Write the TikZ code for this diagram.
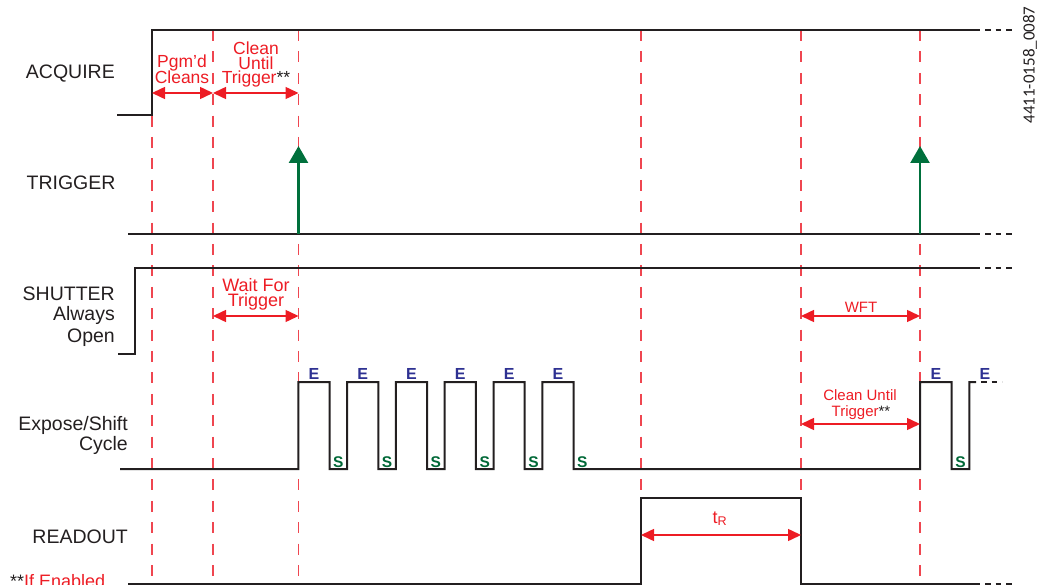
\documentclass[tikz,border=0pt]{standalone}
\usepackage{fontspec}
\setmainfont{Liberation Sans}
\newfontfamily\carlito{Carlito}
\usetikzlibrary{arrows.meta}
\definecolor{ink}{RGB}{35,31,32}
\definecolor{red1}{RGB}{237,28,36}
\definecolor{dashred}{RGB}{239,70,80}
\definecolor{trig}{RGB}{0,112,60}
\definecolor{eblue}{RGB}{46,49,146}
\definecolor{sgreen}{RGB}{0,104,55}
\begin{document}
\begin{tikzpicture}[x=1pt,y=-1pt,
  wave/.style={draw=ink,line width=2pt,line join=miter},
  cont/.style={draw=ink,line width=2pt,dash pattern=on 5.5pt off 5pt},
  guide/.style={draw=dashred,line width=1.4pt,dash pattern=on 11pt off 10.4pt},
  span/.style={draw=red1,line width=1.5pt,{Triangle[length=13pt,width=12pt]}-{Triangle[length=13pt,width=12pt]}},
  trigarrow/.style={draw=trig,line width=2.5pt,-{Triangle[length=17pt,width=19pt]}},
  sig/.style={font=\fontsize{19.5}{22}\selectfont,text=ink,anchor=base east,inner sep=0pt},
  note/.style={font=\fontsize{17.5}{18}\selectfont,text=red1,anchor=base,inner sep=0pt},
  smallnote/.style={font=\fontsize{15}{16}\selectfont,text=red1,anchor=base,inner sep=0pt},
  elab/.style={font=\fontsize{16}{16}\selectfont\bfseries,text=eblue,anchor=base,inner sep=0pt},
  slab/.style={font=\fontsize{15.5}{16}\selectfont\bfseries,text=sgreen,anchor=base,inner sep=0pt}
]
\useasboundingbox (0,0) rectangle (1039,585);

% guide columns
\foreach \gx/\gn in {152/ga,213/gb,298.5/gc,641/gd,801/ge,920/gf}{
  \coordinate (\gn top) at (\gx,30);
  \coordinate (\gn bot) at (\gx,592);
  \draw[guide] (\gn top) -- (\gn bot);
}

% ACQUIRE
\draw[wave] (117,115) -- (152,115) -- (152,30) -- (980,30);
\draw[cont] (985,30) -- (1013,30);
% TRIGGER
\draw[wave] (128,234) -- (980,234);
\draw[cont] (985,234) -- (1013,234);
% SHUTTER
\draw[wave] (118,354) -- (135,354) -- (135,268) -- (980,268);
\draw[cont] (985,268) -- (1013,268);
% EXPOSE/SHIFT
\draw[wave] (120,469) -- (298.3,469)
  \foreach \r in {298.3,347.1,395.9,444.7,493.5,542.3}{
    -- (\r,382) -- ({\r+31.2},382) -- ({\r+31.2},469) -- ({\r+48.8},469)
  } -- (920,469) -- (920,382) -- (951.7,382) -- (951.7,469) -- (969.3,469) -- (969.3,382) -- (976,382);
\draw[cont] (981,382) -- (1002,382);
% READOUT
\draw[wave] (128,584) -- (641,584) -- (641,498) -- (801,498) -- (801,584) -- (980,584);
\draw[cont] (985,584) -- (1013,584);

% trigger arrows
\coordinate (t1a) at (298.5,234); \coordinate (t1b) at (298.5,146);
\coordinate (t2a) at (920,234); \coordinate (t2b) at (920,146);
\draw[trigarrow] (t1a) -- (t1b);
\draw[trigarrow] (t2a) -- (t2b);

% span arrows
\coordinate (a1) at (152,93); \coordinate (a2) at (213,93); \coordinate (a3) at (298.5,93);
\coordinate (w1) at (213,316); \coordinate (w2) at (298.5,316);
\coordinate (f1) at (801,316); \coordinate (f2) at (920,316);
\coordinate (c1) at (801,424); \coordinate (c2) at (920,424);
\coordinate (r1) at (641,535); \coordinate (r2) at (801,535);
\draw[span] (a1) -- (a2);
\draw[span] (a2) -- (a3);
\draw[span] (w1) -- (w2);
\draw[span] (f1) -- (f2);
\draw[span] (c1) -- (c2);
\draw[span] (r1) -- (r2);

% signal names
\node[sig] (nacq) at (115,79) {ACQUIRE};
\node[sig] (ntrg) at (115.7,190) {TRIGGER};
\node[sig] (nsh1) at (115,301) {SHUTTER};
\node[sig] (nsh2) at (115,321) {Always};
\node[sig] (nsh3) at (115,342) {Open};
\node[sig] (nex1) at (128,430) {Expose/Shift};
\node[sig] (nex2) at (128,450) {Cycle};
\node[sig] (nrd) at (128,543) {READOUT};

% red notes
\node[note] (pg1) at (182,68) {Pgm’d};
\node[note] (pg2) at (182,84) {Cleans};
\node[note] (cu1) at (256,54.5) {Clean};
\node[note] (cu2) at (256,69.5) {Until};
\node[note] (cu3) at (256,83.5) {Trigger{\color{ink}**}};
\node[note,font=\fontsize{18}{18}\selectfont] (wf1) at (256,291.5) {Wait For};
\node[note,font=\fontsize{18}{18}\selectfont] (wf2) at (256,306.5) {Trigger};
\node[smallnote] (wft) at (861,313) {WFT};
\node[smallnote] (rc1) at (860,400.5) {Clean Until};
\node[smallnote] (rc2) at (861,416) {Trigger{\color{ink}**}};
\node[note,font=\fontsize{18}{18}\selectfont] (tr) at (720,523) {t\textsubscript{R}};
\node[note,anchor=base west,font=\fontsize{18}{18}\selectfont] (ife) at (10,587) {{\color{ink}**}If Enabled};

% E and S labels
\foreach \r [count=\i] in {298.3,347.1,395.9,444.7,493.5,542.3}{
  \node[elab] (e\i) at ({\r+15.6},379) {E};
  \node[slab] (s\i) at ({\r+40},467) {S};
}
\node[elab] (e7) at (936,379) {E};
\node[slab] (s7) at (960.5,467) {S};
\node[elab] (e8) at (985,379) {E};

% figure id
\node[font=\carlito\fontsize{17}{17}\selectfont,text=ink,rotate=90,inner sep=0pt] (fid) at (1030,65) {4411-0158\_0087};
\end{tikzpicture}
\end{document}
